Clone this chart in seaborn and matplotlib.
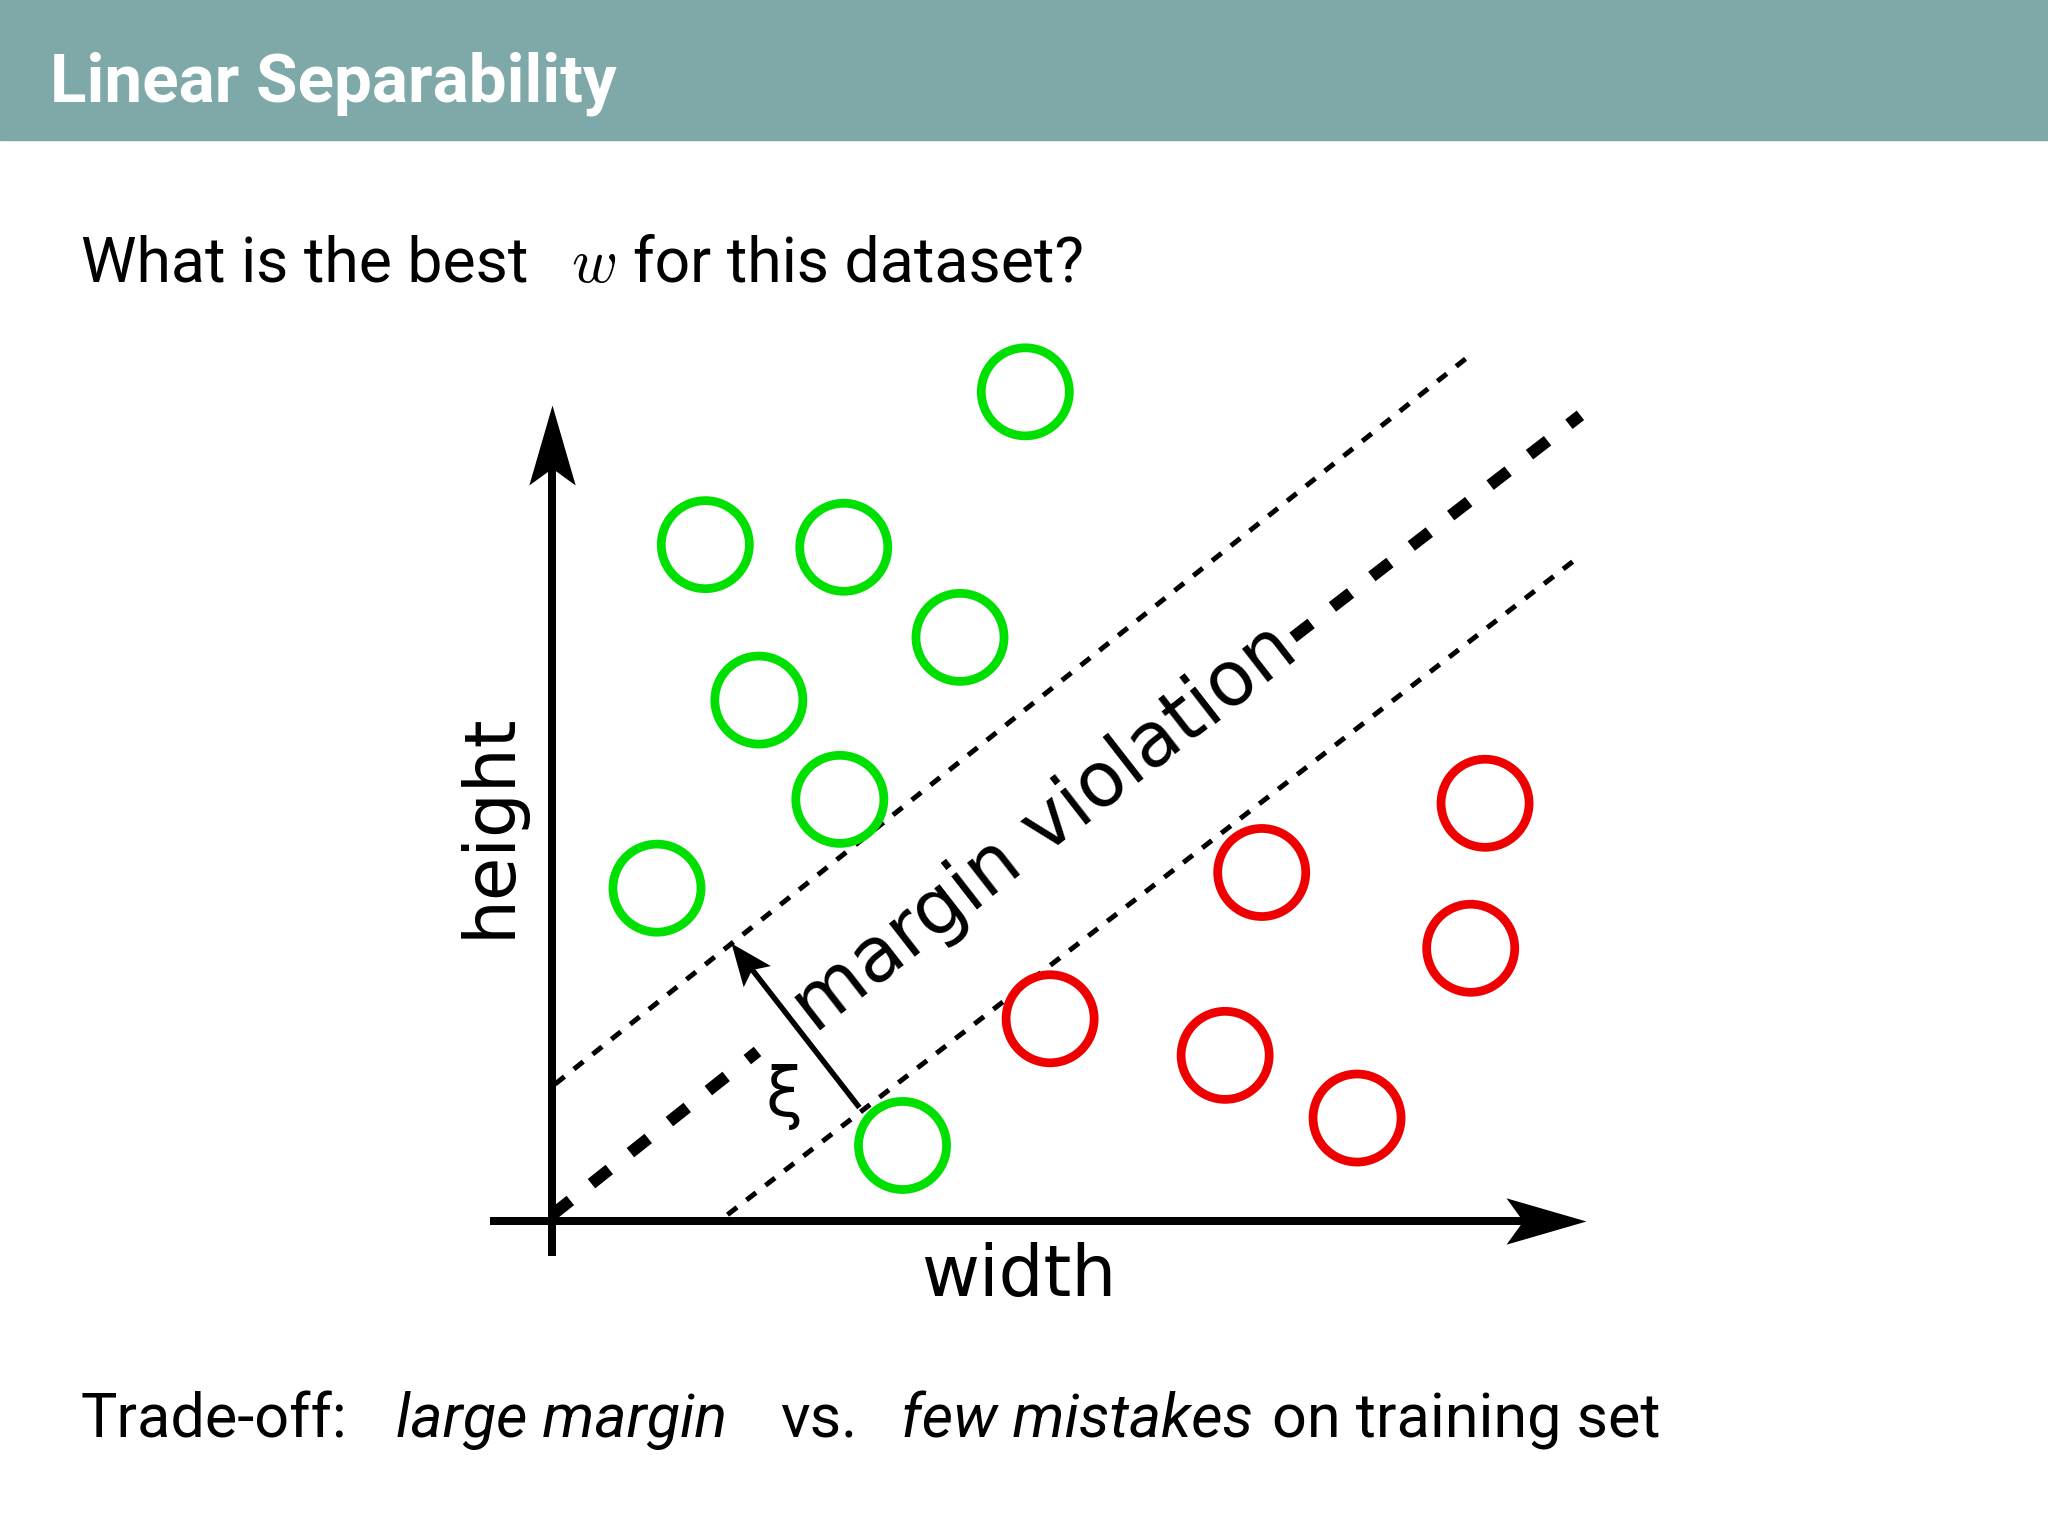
import numpy as np
import pandas as pd
import matplotlib
matplotlib.use("Agg")
import matplotlib.pyplot as plt
import seaborn as sns
from matplotlib.patches import Rectangle
from matplotlib.path import Path

# DATA (diagram units, origin at the axes corner)

green_x = [3.62, 1.17, 2.23, 3.12, 1.58, 2.20, 0.80, 2.68]
green_y = [6.35, 5.18, 5.16, 4.47, 3.99, 3.23, 2.55, 0.58]
red_x = [7.14, 5.43, 7.03, 3.81, 5.15, 6.16]
red_y = [3.20, 2.67, 2.09, 1.55, 1.27, 0.79]

# separating line (broken around the label) and the two margins
center_x = [[0.0, 1.57], [5.67, 7.87]]
center_y = [[0.05, 1.30], [4.47, 6.17]]
upper_x = [0.02, 7.05]
upper_y = [1.05, 6.65]
lower_x = [1.34, 7.85]
lower_y = [0.05, 5.08]

# slack arrow
xi_x = [2.35, 1.37]
xi_y = [0.87, 2.13]

title = "Linear Separability"
# (text, style, left edge in px)
question = [("What is the best", "normal", 81), ("$w$", "normal", 571),
            ("for this dataset?", "normal", 633)]
tradeoff = [("Trade-off:", "normal", 81), ("large margin", "italic", 396),
            ("vs.", "normal", 780), ("few mistakes", "italic", 901),
            ("on training set", "normal", 1272)]

GREEN = "#00e000"
RED = "#ee0000"
HEADER = "#7fa8a8"

# FIGURE

sns.set_style("white")
plt.rcParams["font.family"] = ["Roboto", "DejaVu Sans"]
plt.rcParams["text.color"] = "black"

W, H = 2048, 1536
fig = plt.figure(figsize=(W / 100, H / 100), dpi=100)

fig.add_artist(Rectangle((0, 1 - 140 / H), 1, 140 / H, transform=fig.transFigure,
                         color=HEADER, zorder=0))
fig.text(50 / W, 1 - 102 / H, title, color="white", fontsize=48.5, fontweight="bold",
         family="Roboto", va="baseline")


def text_run(pieces, y, size):
    for s, style, x in pieces:
        fig.text(x / W, 1 - y / H, s, fontsize=size, style=style, family="Roboto",
                 va="baseline", math_fontfamily="cm")


text_run(question, 282, 45)
text_run(tradeoff, 1437, 44)

# DIAGRAM AXES

U = 100 * W / 1568          # pixels per diagram unit
ox, oy = 423 * W / 1568, 935 * W / 1568
xlim = (-0.6, 8.3)
ylim = (-0.5, 6.9)
left = ox + xlim[0] * U
top = oy - ylim[1] * U
ax = fig.add_axes([left / W, 1 - (top + (ylim[1] - ylim[0]) * U) / H,
                   (xlim[1] - xlim[0]) * U / W, (ylim[1] - ylim[0]) * U / H])
ax.set_xlim(xlim)
ax.set_ylim(ylim)
ax.axis("off")


def arrow(xs, ys, lw_px, head_px, half, notch):
    ang = np.arctan2(ys[1] - ys[0], xs[1] - xs[0])
    c, s = np.cos(ang), np.sin(ang)
    shaft = 0.5 * head_px / U
    ax.plot([xs[0], xs[1] - shaft * c], [ys[0], ys[1] - shaft * s], color="black",
            lw=lw_px * 0.72, solid_capstyle="butt", zorder=3)
    v = np.array([[0, 0], [-1, half], [-notch, 0], [-1, -half], [0, 0]])
    v = v @ np.array([[c, s], [-s, c]])
    p = Path(v, [Path.MOVETO, Path.LINETO, Path.LINETO, Path.LINETO, Path.CLOSEPOLY])
    ms = 2 * head_px * 0.72 * np.max(np.abs(v))
    ax.plot([xs[1]], [ys[1]], marker=p, ms=ms, color="black", mew=0, zorder=3)


# margins and separator
for cx, cy in zip(center_x, center_y):
    ax.plot(cx, cy, color="black", lw=12 * 0.72, dashes=(1.9, 2.25),
            dash_capstyle="butt", zorder=2)
ax.plot(upper_x, upper_y, color="black", lw=5 * 0.72, dashes=(2.4, 2.4),
        dash_capstyle="butt", zorder=2)
ax.plot(lower_x, lower_y, color="black", lw=5 * 0.72, dashes=(2.4, 2.4),
        dash_capstyle="butt", zorder=2)

# axes arrows
arrow([0, 0], [-0.27, 6.25], 8, 80, 0.29, 0.79)
arrow([-0.48, 7.91], [0, 0], 8, 80, 0.29, 0.79)
arrow(xi_x, xi_y, 5.5, 42, 0.41, 0.8)

# points
df = pd.DataFrame({
    "x": green_x + red_x,
    "y": green_y + red_y,
    "cls": ["pos"] * len(green_x) + ["neg"] * len(red_x),
})
for cls, col in [("pos", GREEN), ("neg", RED)]:
    sub = df[df["cls"] == cls]
    sns.scatterplot(x=sub["x"], y=sub["y"], ax=ax, s=4020, marker="o",
                    facecolors="none", edgecolor=col, linewidth=6.3,
                    legend=False, zorder=4, clip_on=False)
ax.set_xlabel("")
ax.set_ylabel("")

# labels
ax.text(-0.48, 3.03, "height", rotation=90, ha="center", va="center",
        fontsize=51, family="DejaVu Sans")
ax.text(3.57, -0.42, "width", ha="center", va="center", fontsize=51,
        family="DejaVu Sans")
ax.text(3.77, 3.0, "margin violation", rotation=np.degrees(np.arctan(0.778)),
        rotation_mode="anchor", ha="center", va="center", fontsize=54.5,
        family="DejaVu Sans")
ax.text(1.77, 0.95, "ξ", ha="center", va="center", fontsize=48, family="DejaVu Sans")

fig.savefig("out.png", dpi=100)
